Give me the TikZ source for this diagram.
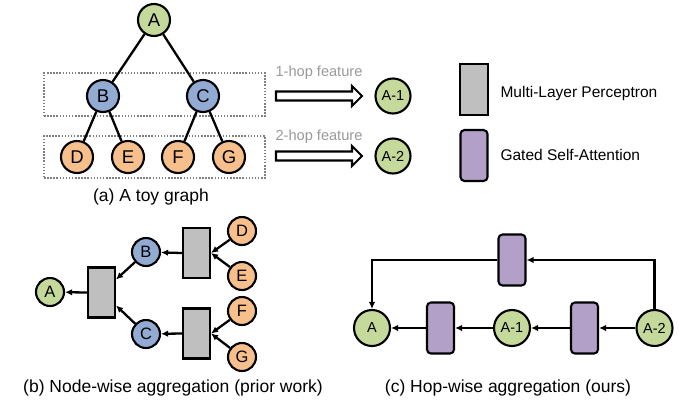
\documentclass[tikz,border=0pt]{standalone}
\usepackage{fontspec}
\setmainfont{Liberation Sans}
\usetikzlibrary{arrows.meta,calc}
\definecolor{cgreen}{HTML}{C5D99B}
\definecolor{cblue}{HTML}{92ABD3}
\definecolor{corange}{HTML}{F7BF8C}
\definecolor{cpurple}{HTML}{B2A0C8}
\definecolor{cgray}{HTML}{BFBFBF}
\definecolor{ctext}{HTML}{999999}
\tikzset{
  tnode/.style={circle,draw=black,line width=2.1pt,minimum size=32pt,inner sep=0pt,font=\fontsize{18.5}{20}\selectfont},
  bnode/.style={circle,draw=black,line width=2.1pt,minimum size=28pt,inner sep=0pt,font=\fontsize{16.5}{18}\selectfont},
  hnode/.style={circle,draw=black,line width=2.1pt,minimum size=35pt,inner sep=0pt,font=\fontsize{14.5}{16}\selectfont},
  mlp/.style={rectangle,draw=black,fill=cgray,line width=2.1pt,minimum width=27pt,minimum height=50pt,inner sep=0pt},
  gsa/.style={rectangle,rounded corners=4pt,draw=black,fill=cpurple,line width=2.1pt,minimum width=27pt,minimum height=51pt,inner sep=0pt},
  hopbox/.style={draw=black!50,line width=1.6pt,dash pattern=on 1.5pt off 1.6pt},
  edge/.style={line width=2.3pt},
  arr/.style={line width=2.3pt,-{Latex[length=7pt,width=6.5pt]}},
  caption/.style={font=\fontsize{17.5}{20}\selectfont},
  legtext/.style={font=\fontsize{15.5}{18}\selectfont,anchor=west},
  hoptext/.style={font=\fontsize{14.6}{17}\selectfont,text=ctext},
  bigarrow/.style={draw=black,line width=2.1pt,fill=white,line join=miter}
}
\begin{document}
\begin{tikzpicture}[x=1pt,y=-1pt]
\useasboundingbox (0,0) rectangle (683,400);
% (a) toy graph
\node[hopbox,rectangle,minimum width=221pt,minimum height=43pt] (box1) at (154.5,94.5) {};
\node[hopbox,rectangle,minimum width=221pt,minimum height=42pt] (box2) at (154.5,157) {};
\node[tnode,fill=cgreen] (A) at (154,20) {A};
\node[tnode,fill=cblue] (B) at (103,96) {B};
\node[tnode,fill=cblue] (C) at (203,96) {C};
\node[tnode,fill=corange] (D) at (77,157) {D};
\node[tnode,fill=corange] (E) at (128,157) {E};
\node[tnode,fill=corange] (F) at (178,157) {F};
\node[tnode,fill=corange] (G) at (229,157) {G};
\draw[edge] (A) -- (B);
\draw[edge] (A) -- (C);
\draw[edge] (B) -- (D);
\draw[edge] (B) -- (E);
\draw[edge] (C) -- (F);
\draw[edge] (C) -- (G);
\node[caption] (capa) at (151,197) {(a) A toy graph};
% hop features
\node[hoptext] (t1) at (319,73) {1-hop feature};
\node[hoptext] (t2) at (319,137) {2-hop feature};
\draw[bigarrow] (276,91.5) -- (352,91.5) -- (352,86) -- (362,96) -- (352,106) -- (352,100.5) -- (276,100.5) -- cycle;
\draw[bigarrow] (276,151.5) -- (352,151.5) -- (352,146) -- (362,156) -- (352,166) -- (352,160.5) -- (276,160.5) -- cycle;
\node[hnode,fill=cgreen] (A1top) at (393,96) {A-1};
\node[hnode,fill=cgreen] (A2top) at (393,156) {A-2};
% legend
\node[mlp,minimum width=28pt,minimum height=51pt] (legmlp) at (474,89.5) {};
\node[gsa] (leggsa) at (474,155.5) {};
\node[legtext] (lt1) at (497,93) {Multi-Layer Perceptron};
\node[legtext] (lt2) at (497,155) {Gated Self-Attention};
% (b) node-wise aggregation
\node[bnode,fill=cgreen] (bA) at (50,292) {A};
\node[bnode,fill=cblue] (bB) at (146,252) {B};
\node[bnode,fill=cblue] (bC) at (146,334) {C};
\node[bnode,fill=corange] (bD) at (242,231) {D};
\node[bnode,fill=corange] (bE) at (242,276) {E};
\node[bnode,fill=corange] (bF) at (242,311) {F};
\node[bnode,fill=corange] (bG) at (242,357) {G};
\node[mlp] (m0) at (101.5,292.5) {};
\node[mlp] (m1) at (196.5,253) {};
\node[mlp] (m2) at (196.5,333.5) {};
\coordinate (m0a) at ($(m0.east)+(0,-13)$);
\coordinate (m0b) at ($(m0.east)+(0,13)$);
\draw[arr] (bD) -- (m1.east);
\draw[arr] (bE) -- (m1.east);
\draw[arr] (bF) -- (m2.east);
\draw[arr] (bG) -- (m2.east);
\draw[arr] (m1.west) -- (bB);
\draw[arr] (m2.west) -- (bC);
\draw[arr] (bB) -- (m0a);
\draw[arr] (bC) -- (m0b);
\draw[arr] (m0.west) -- (bA);
\node[caption] (capb) at (173,388) {(b) Node-wise aggregation (prior work)};
% (c) hop-wise aggregation
\node[hnode,fill=cgreen,minimum size=36pt] (cA) at (372,328) {A};
\node[hnode,fill=cgreen,minimum size=36pt] (cA1) at (512,328) {A-1};
\node[hnode,fill=cgreen,minimum size=36pt] (cA2) at (654.5,328) {A-2};
\node[gsa] (g1) at (440.5,328) {};
\node[gsa] (g2) at (584.5,328) {};
\node[gsa] (g3) at (512,260) {};
\draw[arr] (cA2) -- (g2.east);
\draw[arr] (g2.west) -- (cA1);
\draw[arr] (cA1) -- (g1.east);
\draw[arr] (g1.west) -- (cA);
\draw[arr] (cA2.north) -- (cA2.north |- g3.east) -- (g3.east);
\draw[arr] (g3.west) -- (cA.north |- g3.west) -- (cA.north);
\node[caption] (capc) at (508,388) {(c) Hop-wise aggregation (ours)};
\end{tikzpicture}
\end{document}
